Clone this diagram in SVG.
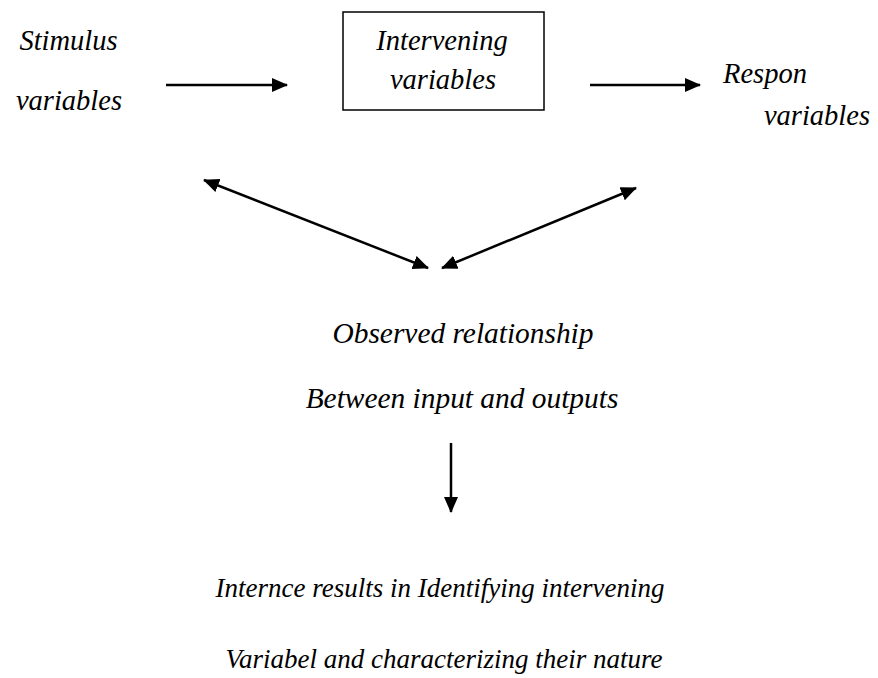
<svg xmlns="http://www.w3.org/2000/svg" width="878" height="678" viewBox="0 0 878 678">
<style>
.t{font-family:'Liberation Serif','Times New Roman',serif;font-style:italic;font-size:28.5px;fill:#000;text-anchor:middle}
.m{font-size:29.4px}
.b{font-size:27px}
.ln{stroke:#000;stroke-width:2.5;fill:none}
</style>
<defs>
<marker id="ah" markerUnits="userSpaceOnUse" markerWidth="16" markerHeight="16" viewBox="0 0 16 16" refX="15" refY="8" orient="auto-start-reverse">
<path d="M0,1 L16,8 L0,15 Z" fill="#000"/>
</marker>
</defs>
<rect width="878" height="678" fill="#fff"/>
<g id="stimulus">
<text class="t" x="68.5" y="50">Stimulus</text>
<text class="t" x="69" y="110">variables</text>
</g>
<g id="intervening">
<rect x="343" y="12" width="201" height="98" fill="none" stroke="#000" stroke-width="1.5"/>
<text class="t" x="442" y="50">Intervening</text>
<text class="t" x="443" y="89">variables</text>
</g>
<g id="response">
<text class="t" x="765" y="83">Respon</text>
<text class="t" x="817" y="125">variables</text>
</g>
<g id="observed">
<text class="t m" x="463" y="343">Observed relationship</text>
<text class="t m" x="462" y="408">Between input and outputs</text>
</g>
<g id="inference">
<text class="t b" x="440" y="597">Internce results in Identifying intervening</text>
<text class="t b" x="444" y="668">Variabel and characterizing their nature</text>
</g>
<g id="connectors">
<line class="ln" x1="166" y1="85" x2="287" y2="85" marker-end="url(#ah)"/>
<line class="ln" x1="590" y1="85" x2="700" y2="85" marker-end="url(#ah)"/>
<line class="ln" x1="204" y1="180" x2="428" y2="268" marker-start="url(#ah)" marker-end="url(#ah)"/>
<line class="ln" x1="442" y1="268" x2="636" y2="188" marker-start="url(#ah)" marker-end="url(#ah)"/>
<line class="ln" x1="451" y1="443" x2="451" y2="512" marker-end="url(#ah)"/>
</g>
</svg>
